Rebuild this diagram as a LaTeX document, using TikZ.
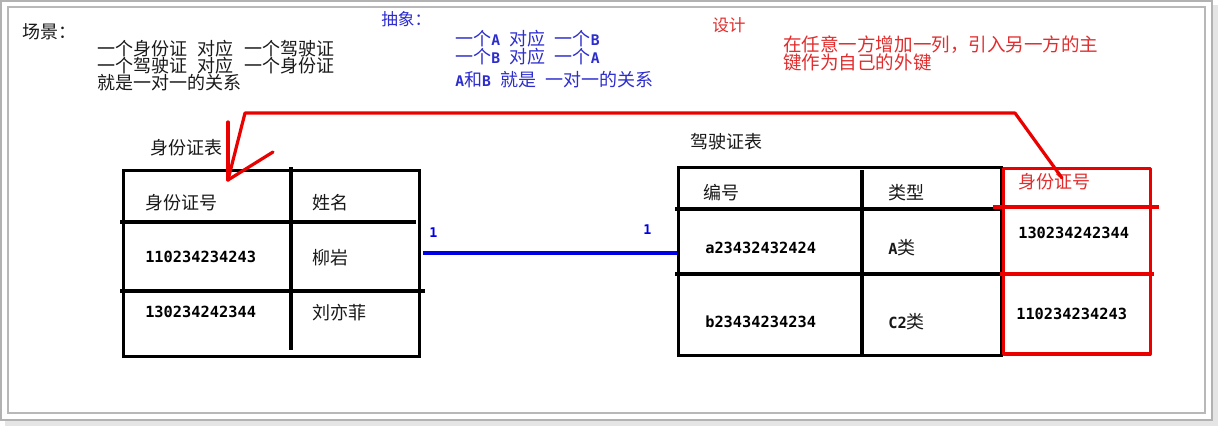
\documentclass[tikz,border=0pt]{standalone}
\usepackage{fontspec}
\usepackage{xcolor}
\newfontfamily\cjk{Noto Sans CJK SC}
\newfontfamily\pix{DejaVu Sans Mono Bold}
\definecolor{absblue}{RGB}{45,45,205}
\definecolor{relblue}{RGB}{0,0,230}
\definecolor{fkred}{RGB}{235,0,0}
\definecolor{fktext}{RGB}{225,45,45}
\newcommand\pixA[1]{{\pix\fontsize{11}{11}\selectfont #1}}

\begin{document}
\begin{tikzpicture}[x=.75pt, y=-.75pt,
	txt/.style={inner sep=0pt, anchor=west, text=black!90, font=\cjk\fontsize{13.5}{12.8}\selectfont, align=left},
	small/.style={txt, font=\cjk\fontsize{12.5}{11.5}\selectfont},
	num/.style={inner sep=0pt, anchor=west, font=\pix\fontsize{11.5}{11.5}\selectfont},
	grid/.style={line width=2.5pt, line cap=rect},
	fk/.style={fkred, line width=2.4pt, line cap=round, line join=round},
	relline/.style={relblue, line width=2.4pt}]
	\useasboundingbox (0,0) rectangle (1218,426);
	% frame
	\fill[black!10] (5,5) rectangle (1218,426);
	\filldraw[fill=white, draw=black!30, line width=1.2pt] (1,1) rectangle (1212,420);
	\draw[black!28, line width=1.2pt] (8,7) rectangle (1205,413);

	% texts at the top
	\node[txt] (scene) at (22,32) {场景：};
	\node[txt, anchor=north west] (scenetxt) at (97,40) {一个身份证\hspace{8pt}对应\hspace{8pt}一个驾驶证\\一个驾驶证\hspace{8pt}对应\hspace{8pt}一个身份证\\就是一对一的关系};
	\node[small, text=absblue] (abstr) at (381,19) {抽象：};
	\node[small, text=absblue, font=\cjk\fontsize{13.5}{11.5}\selectfont, anchor=north west] (abstrtxt) at (455,30)
		{一个\pixA{A}\hspace{7pt}对应\hspace{7pt}一个\pixA{B}\\
		 一个\pixA{B}\hspace{7pt}对应\hspace{7pt}一个\pixA{A}\\[3.5pt]
		 \pixA{A}和\pixA{B}\hspace{7pt}就是\hspace{7pt}一对一的关系};
	\node[small, text=fktext] (design) at (712,25) {设计};
	\node[txt, text=fktext, font=\cjk\fontsize{13.9}{12}\selectfont, anchor=north west] (designtxt) at (783,35) {在任意一方增加一列，引入另一方的主\\键作为自己的外键};

	% 身份证表
	\node[txt] (idtitle) at (150,148) {身份证表};
	\node[draw, grid, inner sep=0pt, anchor=north west, minimum width=222pt, minimum height=139.5pt] (idtab) at (122,169) {};
	\draw[grid] (291,169) -- (291,348);
	\draw[grid] (122,222) -- (414,222);
	\draw[grid] (122,291) -- (423,291);
	\node[txt] (idno) at (145,203) {身份证号};
	\node[txt] (idname) at (312,203) {姓名};
	\node[num] (id1) at (145,257) {110234234243};
	\node[txt] (name1) at (312,258) {柳岩};
	\node[num] (id2) at (145,312) {130234242344};
	\node[txt] (name2) at (312,313) {刘亦菲};

	% 驾驶证表
	\node[txt] (drvtitle) at (690,142) {驾驶证表};
	\node[draw, grid, inner sep=0pt, anchor=north west, minimum width=242pt, minimum height=141pt] (drvtab) at (677,166) {};
	\draw[grid] (862,172) -- (862,354);
	\draw[grid] (677,209) -- (1000,209);
	\draw[grid] (677,274) -- (1000,274);
	\node[txt] (drvno) at (703,193) {编号};
	\node[txt] (drvtype) at (888,193) {类型};
	\node[num] (drv1) at (705,248) {a23432432424};
	\node[txt] (type1) at (888,248) {{\pix\fontsize{11.5}{11.5}\selectfont A}类};
	\node[num] (drv2) at (705,322) {b23434234234};
	\node[txt] (type2) at (888,322) {{\pix\fontsize{11.5}{11.5}\selectfont C2}类};

	% new column
	\node[draw, fk, line cap=rect, inner sep=0pt, anchor=north west, minimum width=110pt, minimum height=139pt] (fkcol) at (1002,167) {};
	\draw[fk, line cap=rect] (995,207) -- (1157,207);
	\draw[fk, line cap=rect] (1002,274) -- (1152,274);
	\node[txt, text=fktext] (fkname) at (1018,182) {身份证号};
	\node[num] (fk1) at (1018,233) {130234242344};
	\node[num] (fk2) at (1016,314) {110234234243};

	% 1 : 1
	\coordinate (blueL) at (423,253);
	\draw[relline] (blueL) -- (drvtab.west |- blueL);
	\node[num, text=relblue, font=\pix\fontsize{10}{10}\selectfont] (oneL) at (429,233) {1};
	\node[num, text=relblue, font=\pix\fontsize{10}{10}\selectfont] (oneR) at (643,230) {1};

	% foreign key arrow
	\coordinate (fkstart) at (1062,178);
	\coordinate (fktip) at (228,180);
	\draw[fk] (fkstart) -- (1015,113) -- (245,113) -- (fktip);
	\draw[fk] (228,122) -- (fktip);
	\draw[fk] (273,152) -- (fktip);
\end{tikzpicture}
\end{document}
